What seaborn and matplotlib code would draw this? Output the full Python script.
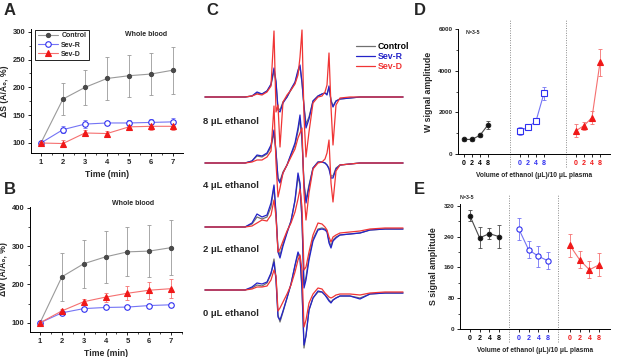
import numpy as np
import seaborn as sns
import matplotlib.pyplot as plt
from matplotlib.ticker import MultipleLocator

sns.set_theme(style='ticks')
plt.rcParams['font.family'] = ['Liberation Sans', 'DejaVu Sans']
plt.rcParams['font.weight'] = 'bold'
plt.rcParams['axes.labelweight'] = 'bold'

# ---- panels A and B: time course (% of first reading) ----
time_min = [1, 2, 3, 4, 5, 6, 7]
a_control = [100, 179, 200, 216, 221, 224, 231]
a_control_err = [0, 29, 31, 38, 38, 37, 42]
a_sevr = [100, 124, 134, 136, 136, 137, 138]
a_sevr_err = [0, 6, 7, 3, 6, 6, 7]
a_sevd = [100, 99, 118, 117, 129, 130, 130]
a_sevd_err = [0, 6, 6, 4, 6, 6, 6]

b_control = [100, 220, 254, 272, 285, 287, 296]
b_control_err = [0, 62, 63, 68, 64, 67, 72]
b_sevr = [100, 126, 137, 140, 141, 145, 147]
b_sevr_err = [0, 3, 3, 4, 4, 4, 4]
b_sevd = [100, 131, 155, 167, 177, 185, 189]
b_sevd_err = [0, 5, 8, 12, 18, 22, 25]

# ---- panel C: EPR spectra (offset from baseline, px) ----
field = [205, 245, 252, 257, 262, 267, 271, 274, 276, 278, 280, 283, 287, 291, 295, 298, 300, 302,
         304, 306, 309, 313, 318, 322, 325, 327, 329, 331, 333, 336, 340, 350, 360, 370, 385, 403]
c8_control = [0, 0, 1, 4, 3, 6, 12, 26, 14, -11, -13, -5, 0, 7, 14, 25, 30, 14,
              -9, -27, -20, -4, 1, 3, 4, 3, 9, -3, -9, -4, -2, -1, 0, 0, 0, 0]
c8_sevr = [0, 0, 1, 5, 3, 6, 13, 29, 16, -13, -15, -6, 0, 8, 15, 27, 32, 15,
           -10, -31, -22, -4, 1, 3, 4, 2, 11, -4, -10, -4, -2, -1, 0, 0, 0, 0]
c8_sevd = [0, 0, 1, 3, 2, 5, 11, 66, -15, -8, -50, -5, 2, 7, 13, 22, 40, 67,
           -20, -60, -35, -6, 0, 1, 5, 12, 44, -10, -48, -8, -1, 0, 0, 0, 0, 0]
c4_control = [0, 0, 2, 7, 6, 9, 16, 30, 10, -15, -18, -9, -2, 8, 18, 32, 44, 22,
              -20, -37, -22, -5, 1, 1, 0, -2, -5, -13, -13, -5, -2, -1, 0, 0, 0, 0]
c4_sevr = [0, 0, 2, 8, 7, 10, 18, 33, 12, -16, -20, -10, -2, 9, 20, 35, 48, 25,
           -22, -40, -24, -5, 1, 1, 0, -2, -6, -15, -15, -6, -2, -1, 0, 0, 0, 0]
c4_sevd = [0, 0, 1, 3, 3, 6, 12, 57, 0, -34, -25, -10, -2, 6, 14, 25, 30, 35,
           -30, -57, -30, -6, 0, 1, 4, 10, 23, -20, -39, -8, -2, -1, 0, 0, 0, 0]
c2_control = [0, 0, 3, 10, 8, 10, 20, 40, 12, -22, -28, -17, -5, 6, 26, 50, 42, 6,
              -58, -50, -30, -12, -2, -1, -2, -4, -14, -19, -13, -10, -8, -7, -6, -3, -2, -2]
c2_sevr = [0, 0, 4, 13, 10, 12, 24, 42, 14, -25, -31, -19, -6, 6, 27, 54, 44, 8,
           -61, -53, -33, -14, -3, -2, -3, -5, -16, -21, -14, -11, -8, -7, -6, -3, -2, -2]
c2_sevd = [0, 0, 1, 4, 7, 6, 12, 27, 10, -25, -22, -14, -4, 4, 15, 28, 38, 20,
           -43, -40, -25, -8, 4, 3, 0, -3, -10, -15, -10, -8, -6, -5, -4, -2, -1, -1]
c0_control = [0, 0, 2, 5, 4, 7, 16, 31, 12, -25, -32, -22, -8, 6, 24, 36, 32, 0,
              -58, -45, -20, -8, -2, -2, -5, -7, -10, -12, -10, -8, -6, -6, -8, -4, -3, -3]
c0_sevr = [0, 0, 3, 7, 6, 8, 17, 28, 10, -27, -30, -21, -8, 6, 25, 38, 33, 2,
           -55, -46, -20, -8, -1, -2, -5, -8, -11, -13, -10, -8, -6, -6, -9, -4, -3, -3]
c0_sevd = [0, 0, 1, 3, 3, 4, 10, 20, 14, -21, -18, -12, -4, 5, 18, 30, 35, 20,
           -37, -30, -13, -4, 2, 1, -3, -5, -7, -8, -7, -5, -4, -4, -5, -3, -2, -2]
c_labels = ['8 μL ethanol', '4 μL ethanol', '2 μL ethanol', '0 μL ethanol']

# ---- panels D and E: signal amplitude vs ethanol volume ----
ethanol = ['0', '2', '4', '8']
d_control = [700, 700, 900, 1400]
d_control_err = [60, 60, 80, 200]
d_sevr = [1120, 1280, 1580, 2920]
d_sevr_err = [200, 60, 100, 320]
d_sevd = [1120, 1360, 1750, 4400]
d_sevd_err = [320, 200, 300, 660]

e_control = [295, 237, 248, 240]
e_control_err = [15, 27, 15, 30]
e_sevr = [260, 206, 189, 177]
e_sevr_err = [28, 22, 28, 22]
e_sevd = [218, 180, 154, 167]
e_sevd_err = [30, 22, 22, 30]

W, H = 617, 357
fig = plt.figure(figsize=(W / 100, H / 100), dpi=100)


def px_axes(left, top, right, bottom):
    return fig.add_axes([left / W, 1 - bottom / H, (right - left) / W, (bottom - top) / H])


def style_axes(ax, size=5.5):
    sns.despine(ax=ax)
    for s in ('left', 'bottom'):
        ax.spines[s].set_linewidth(0.7)
        ax.spines[s].set_color('black')
    ax.tick_params(which='major', direction='out', length=2.5, width=0.6, pad=1.5,
                   labelsize=size, color='black')
    ax.tick_params(which='minor', direction='out', length=1.5, width=0.5, color='black')


GRAY_L, GRAY_M = '#9a9a9a', '#4a4a4a'
BLUE_L, BLUE_M = '#7474f5', '#3030f0'
RED_L, RED_M = '#f57070', '#f01818'


def draw_series(ax, x, y, err, lcol, mcol, marker, face, ms, label=None):
    ax.errorbar(x, y, yerr=err, fmt='none', ecolor=lcol, elinewidth=0.6,
                capsize=1.3, capthick=0.6, zorder=1)
    sns.lineplot(x=x, y=y, ax=ax, color=lcol, lw=0.8, marker=marker, markersize=ms,
                 markerfacecolor=face, markeredgecolor=mcol, markeredgewidth=0.8,
                 label=label, zorder=3)


def time_panel(ax, ctrl, ctrl_e, sevr, sevr_e, sevd, sevd_e, legend):
    draw_series(ax, time_min, ctrl, ctrl_e, GRAY_L, GRAY_M, 'o', GRAY_M, 3, 'Control')
    draw_series(ax, time_min, sevr, sevr_e, BLUE_L, BLUE_M, 'o', 'white', 4, 'Sev-R')
    draw_series(ax, time_min, sevd, sevd_e, RED_L, RED_M, '^', RED_M, 4, 'Sev-D')
    style_axes(ax)
    ax.set_xticks(time_min)
    ax.xaxis.set_minor_locator(MultipleLocator(0.5))
    ax.set_xlabel('Time (min)', fontsize=6.2, labelpad=3)
    if legend:
        leg = ax.legend(loc='upper left', bbox_to_anchor=(0.005, 1.02), fontsize=5, frameon=True,
                        fancybox=False, edgecolor='black', framealpha=1, borderpad=0.35,
                        handlelength=3.0, handletextpad=0.4, labelspacing=0.3)
        leg.get_frame().set_linewidth(0.6)
    elif ax.get_legend() is not None:
        ax.get_legend().remove()


# A
axA = px_axes(31, 29, 183, 153)
time_panel(axA, a_control, a_control_err, a_sevr, a_sevr_err, a_sevd, a_sevd_err, True)
axA.set_xlim(0.55, 7.45)
axA.set_ylim(82, 305)
axA.set_yticks([100, 150, 200, 250, 300])
axA.yaxis.set_minor_locator(MultipleLocator(25))
axA.set_ylabel('ΔS (A/A₀, %)', fontsize=6.2, labelpad=3)
axA.text(0.76, 0.955, 'Whole blood', transform=axA.transAxes, ha='center', va='center', fontsize=5)

# B
axB = px_axes(30, 207, 182, 332)
time_panel(axB, b_control, b_control_err, b_sevr, b_sevr_err, b_sevd, b_sevd_err, False)
axB.set_xlim(0.54, 7.5)
axB.set_ylim(76, 402)
axB.set_yticks([100, 200, 300, 400])
axB.yaxis.set_minor_locator(MultipleLocator(50))
axB.set_ylabel('ΔW (A/A₀, %)', fontsize=6.2, labelpad=3)
axB.text(0.68, 1.03, 'Whole blood', transform=axB.transAxes, ha='center', va='center', fontsize=5)

# C
axC = px_axes(202, 0, 410, 357)
axC.set_xlim(202, 410)
axC.set_ylim(357, 0)
axC.axis('off')
C_GRAY, C_BLUE, C_RED = '#707070', '#2323c8', '#f03535'
stacks = [(97, c8_control, c8_sevr, c8_sevd), (163, c4_control, c4_sevr, c4_sevd),
          (227, c2_control, c2_sevr, c2_sevd), (290, c0_control, c0_sevr, c0_sevd)]
label_y = [122, 185, 249, 313]
for i, (base, ctrl, sevr, sevd) in enumerate(stacks):
    for vals, col, name in ((ctrl, C_GRAY, 'Control'), (sevr, C_BLUE, 'Sev-R'), (sevd, C_RED, 'Sev-D')):
        sns.lineplot(x=field, y=base - np.array(vals), ax=axC, color=col, lw=0.9,
                     sort=False, label=name if i == 0 else None)
    axC.text(203, label_y[i], c_labels[i], ha='left', va='center', fontsize=6.8)
axC.legend(loc='upper left', bbox_to_anchor=(0.72, 0.895), frameon=False, fontsize=6.3,
           handlelength=2.1, handletextpad=0.4, labelspacing=0.15, borderpad=0,
           labelcolor=['black', C_BLUE, C_RED])


# D and E share layout: three groups of four volumes
def amp_panel(ax, groups, pos_groups, markers, dividers, xlim):
    specs = [(GRAY_M, '#222222', '#111111', 3.2), (BLUE_L, BLUE_M, 'white', 3.8),
             (RED_L, RED_M, RED_M, 4)]
    for (vals, err), pos, mk, (lc, mc, face, ms) in zip(groups, pos_groups, markers, specs):
        draw_series(ax, pos, vals, err, lc, mc, mk, face, ms)
    if ax.get_legend() is not None:
        ax.get_legend().remove()
    style_axes(ax, 4.6)
    ticks = [p for g in pos_groups for p in g]
    ax.set_xticks(ticks)
    ax.set_xticklabels(ethanol * 3, fontsize=5)
    for j, lab in enumerate(ax.get_xticklabels()):
        lab.set_color(['black', BLUE_M, RED_M][j // 4])
    for d in dividers:
        ax.axvline(d, ymin=-0.1, ymax=1.07, color='#8a8a8a', ls=(0, (1, 1.5)), lw=0.7, clip_on=False)
    ax.set_xlim(*xlim)
    ax.set_xlabel('Volume of ethanol (μL)/10 μL plasma', fontsize=4.8, labelpad=4)


axD = px_axes(458, 29, 610, 154)
amp_panel(axD, [(d_control, d_control_err), (d_sevr, d_sevr_err), (d_sevd, d_sevd_err)],
          [[0, 1, 2, 3], [7, 8, 9, 10], [14, 15, 16, 17]], ['o', 's', '^'],
          [5.75, 12.75], (-0.75, 18.25))
axD.set_ylim(0, 6000)
axD.set_yticks([0, 2000, 4000, 6000])
axD.yaxis.set_minor_locator(MultipleLocator(1000))
axD.set_ylabel('W signal amplitude', fontsize=6.3, labelpad=4)
axD.text(0.05, 0.97, 'N=3-5', transform=axD.transAxes, fontsize=3.8, va='center')

axE = px_axes(460, 204, 610, 329)
amp_panel(axE, [(e_control, e_control_err), (e_sevr, e_sevr_err), (e_sevd, e_sevd_err)],
          [[0, 1, 2, 3], [5, 6, 7, 8], [10.2, 11.2, 12.2, 13.2]], ['o', 'o', '^'],
          [4.0, 9.0], (-1.0, 14.3))
axE.set_ylim(0, 325)
axE.set_yticks([0, 80, 160, 240, 320])
axE.yaxis.set_minor_locator(MultipleLocator(40))
axE.set_ylabel('S signal amplitude', fontsize=6.3, labelpad=4)
axE.text(0.0, 1.05, 'N=3-5', transform=axE.transAxes, fontsize=3.8, va='center')

for letter, x, y in (('A', 4, 3), ('B', 4, 182), ('C', 206, 3), ('D', 414, 3), ('E', 414, 182)):
    fig.text(x / W, 1 - y / H, letter, fontsize=12, fontweight='bold', va='top', ha='left')

fig.savefig('out.png', dpi=100)
